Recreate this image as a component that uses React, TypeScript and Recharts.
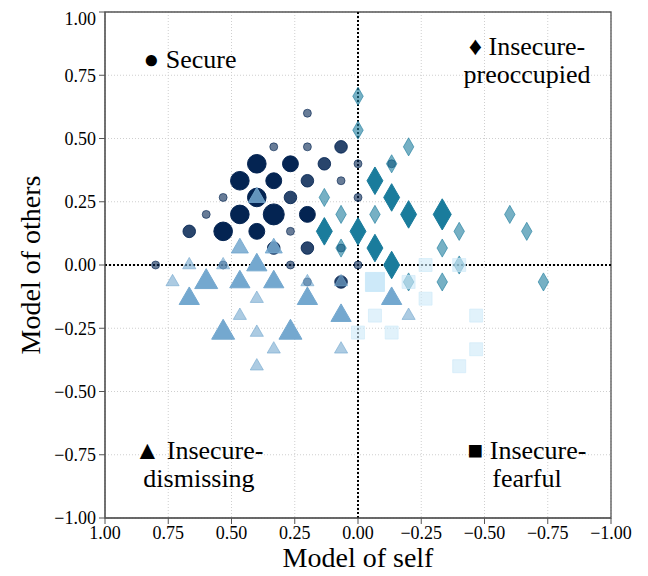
import {
  CartesianGrid,
  ReferenceArea,
  ReferenceLine,
  Scatter,
  ScatterChart,
  Symbols,
  XAxis,
  YAxis,
  ZAxis
} from "recharts";

// z = number of responses at that point
const secure = [
  { x: 0.2, y: 0.6, z: 1 },
  { x: 0.333, y: 0.467, z: 1 },
  { x: 0.2, y: 0.467, z: 1 },
  { x: 0.067, y: 0.467, z: 2 },
  { x: 0.4, y: 0.4, z: 4 },
  { x: 0.267, y: 0.4, z: 3 },
  { x: 0.133, y: 0.4, z: 2 },
  { x: 0, y: 0.4, z: 1 },
  { x: -0.133, y: 0.4, z: 1 },
  { x: 0.467, y: 0.333, z: 4 },
  { x: 0.333, y: 0.333, z: 3 },
  { x: 0.2, y: 0.333, z: 2 },
  { x: 0.067, y: 0.333, z: 1 },
  { x: 0.533, y: 0.267, z: 1 },
  { x: 0.4, y: 0.267, z: 4 },
  { x: 0.267, y: 0.267, z: 2 },
  { x: 0, y: 0.267, z: 1 },
  { x: 0.6, y: 0.2, z: 1 },
  { x: 0.467, y: 0.2, z: 4 },
  { x: 0.333, y: 0.2, z: 5 },
  { x: 0.2, y: 0.2, z: 3 },
  { x: 0.667, y: 0.133, z: 2 },
  { x: 0.533, y: 0.133, z: 4 },
  { x: 0.4, y: 0.133, z: 3 },
  { x: 0.267, y: 0.133, z: 1 },
  { x: 0, y: 0.133, z: 1 },
  { x: 0.333, y: 0.067, z: 2 },
  { x: 0.2, y: 0.067, z: 2 },
  { x: 0.067, y: 0.067, z: 1 },
  { x: -0.067, y: 0.067, z: 1 },
  { x: 0.8, y: 0, z: 1 },
  { x: 0.533, y: 0, z: 1 },
  { x: 0.267, y: 0, z: 1 },
  { x: 0, y: 0, z: 1 },
  { x: 0.333, y: -0.067, z: 1 },
  { x: 0.2, y: -0.067, z: 1 },
  { x: 0.067, y: -0.067, z: 2 }
];

const preoccupied = [
  { x: 0, y: 0.667, z: 1 },
  { x: 0, y: 0.533, z: 1 },
  { x: -0.2, y: 0.467, z: 1 },
  { x: -0.133, y: 0.4, z: 1 },
  { x: -0.067, y: 0.333, z: 3 },
  { x: 0.133, y: 0.267, z: 1 },
  { x: -0.133, y: 0.267, z: 3 },
  { x: 0.067, y: 0.2, z: 1 },
  { x: -0.067, y: 0.2, z: 1 },
  { x: -0.2, y: 0.2, z: 3 },
  { x: -0.333, y: 0.2, z: 4 },
  { x: -0.6, y: 0.2, z: 1 },
  { x: 0.133, y: 0.133, z: 3 },
  { x: 0, y: 0.133, z: 3 },
  { x: -0.4, y: 0.133, z: 1 },
  { x: -0.667, y: 0.133, z: 1 },
  { x: 0.067, y: 0.067, z: 1 },
  { x: -0.067, y: 0.067, z: 3 },
  { x: -0.333, y: 0.067, z: 1 },
  { x: -0.133, y: 0, z: 3 },
  { x: -0.4, y: 0, z: 1 },
  { x: -0.067, y: -0.067, z: 1 },
  { x: -0.2, y: -0.067, z: 1 },
  { x: -0.333, y: -0.067, z: 1 },
  { x: -0.733, y: -0.067, z: 1 }
];

const dismissing = [
  { x: 0.4, y: 0.267, z: 2 },
  { x: 0.467, y: 0.067, z: 2 },
  { x: 0.333, y: 0.067, z: 2 },
  { x: 0.667, y: 0, z: 1 },
  { x: 0.533, y: 0, z: 1 },
  { x: 0.4, y: 0, z: 3 },
  { x: 0.733, y: -0.067, z: 1 },
  { x: 0.6, y: -0.067, z: 4 },
  { x: 0.467, y: -0.067, z: 3 },
  { x: 0.333, y: -0.067, z: 3 },
  { x: 0.2, y: -0.067, z: 1 },
  { x: 0.067, y: -0.067, z: 1 },
  { x: 0.667, y: -0.133, z: 3 },
  { x: 0.4, y: -0.133, z: 1 },
  { x: 0.2, y: -0.133, z: 3 },
  { x: -0.133, y: -0.133, z: 3 },
  { x: 0.467, y: -0.2, z: 1 },
  { x: 0.067, y: -0.2, z: 3 },
  { x: -0.2, y: -0.2, z: 1 },
  { x: 0.533, y: -0.267, z: 4 },
  { x: 0.4, y: -0.267, z: 1 },
  { x: 0.267, y: -0.267, z: 4 },
  { x: 0.333, y: -0.333, z: 1 },
  { x: 0.067, y: -0.333, z: 1 },
  { x: 0.4, y: -0.4, z: 1 }
];

const fearful = [
  { x: -0.267, y: 0, z: 1 },
  { x: -0.4, y: 0, z: 1 },
  { x: -0.067, y: -0.067, z: 3 },
  { x: -0.2, y: -0.067, z: 1 },
  { x: -0.267, y: -0.133, z: 1 },
  { x: -0.067, y: -0.2, z: 1 },
  { x: -0.467, y: -0.2, z: 1 },
  { x: 0, y: -0.267, z: 1 },
  { x: -0.133, y: -0.267, z: 1 },
  { x: -0.467, y: -0.333, z: 1 },
  { x: -0.4, y: -0.4, z: 1 }
];

const ticks = [-1, -0.75, -0.5, -0.25, 0, 0.25, 0.5, 0.75, 1];

const serif = "'Liberation Serif', 'Times New Roman', serif";
const fmt = (v: number) => v.toFixed(2).replace("-", "\u2212");
const alpha = (z: number) => Math.min(1, 0.35 + 0.25 * z);

const makeShape = (type: any, color: string) => (p: any) => (
  <Symbols
    cx={p.cx}
    cy={p.cy}
    size={p.size}
    type={type}
    fill={color}
    fillOpacity={alpha(p.payload.z)}
    stroke={color}
    strokeOpacity={alpha(p.payload.z)}
    strokeWidth={1}
  />
);

const notes = [
  { text: "\u25CF Secure", left: 182, top: 52 },
  { text: "\u2666 Insecure-\npreoccupied", left: 519, top: 53 },
  { text: "\u25B2 Insecure-\ndismissing", left: 191, top: 457 },
  { text: "\u25A0 Insecure-\nfearful", left: 519, top: 457 }
];

export default function App() {
  const tick = { fill: "#000", fontSize: 18, fontFamily: serif };
  return (
    <div style={{ position: "relative", width: 632, height: 568 }}>
      <ScatterChart width={632} height={568} margin={{ top: 4, right: 29, bottom: 0, left: 0 }}>
        <CartesianGrid stroke="#cfcfcf" strokeDasharray="1 2" />
        <XAxis
          type="number"
          dataKey="x"
          domain={[-1, 1]}
          reversed
          ticks={ticks}
          tickFormatter={fmt}
          tick={tick}
          tickSize={6}
          tickMargin={2}
          height={58}
          stroke="#555"
          label={{ value: "Model of self", position: "insideBottom", offset: 9, fontSize: 28, fontFamily: serif, fill: "#000" }}
        />
        <YAxis
          type="number"
          dataKey="y"
          domain={[-1, 1]}
          ticks={ticks}
          tickFormatter={fmt}
          tick={tick}
          tickSize={6}
          tickMargin={3}
          width={97}
          stroke="#555"
          label={{
            value: "Model of others",
            angle: -90,
            position: "insideLeft",
            offset: 22,
            fontSize: 28,
            fontFamily: serif,
            fill: "#000",
            style: { textAnchor: "middle" }
          }}
        />
        <ZAxis zAxisId="c" type="number" dataKey="z" domain={[1, 5]} range={[50, 346]} />
        <ZAxis zAxisId="d" type="number" dataKey="z" domain={[1, 5]} range={[95, 343]} />
        <ZAxis zAxisId="t" type="number" dataKey="z" domain={[1, 5]} range={[75, 280]} />
        <ZAxis zAxisId="s" type="number" dataKey="z" domain={[1, 5]} range={[169, 553]} />
        <ReferenceArea x1={-1} x2={1} y1={-1} y2={1} fill="none" stroke="#555" strokeWidth={1.3} />
        <ReferenceLine x={0} stroke="#000" strokeWidth={2} strokeDasharray="2 2" />
        <ReferenceLine y={0} stroke="#000" strokeWidth={2} strokeDasharray="2 2" />
        <Scatter data={secure} zAxisId="c" shape={makeShape("circle", "#042452")} isAnimationActive={false} />
        <Scatter data={preoccupied} zAxisId="d" shape={makeShape("diamond", "#1a7c9c")} isAnimationActive={false} />
        <Scatter data={dismissing} zAxisId="t" shape={makeShape("triangle", "#74a8cf")} isAnimationActive={false} />
        <Scatter data={fearful} zAxisId="s" shape={makeShape("square", "#cde9f9")} isAnimationActive={false} />
      </ScatterChart>
      {notes.map((n) => (
        <div
          key={n.text}
          style={{
            position: "absolute",
            left: n.left,
            top: n.top,
            transform: "translate(-50%, -50%)",
            fontFamily: serif,
            fontSize: 26,
            lineHeight: "28px",
            textAlign: "center",
            whiteSpace: "pre",
            color: "#000"
          }}
        >
          {n.text}
        </div>
      ))}
    </div>
  );
}
